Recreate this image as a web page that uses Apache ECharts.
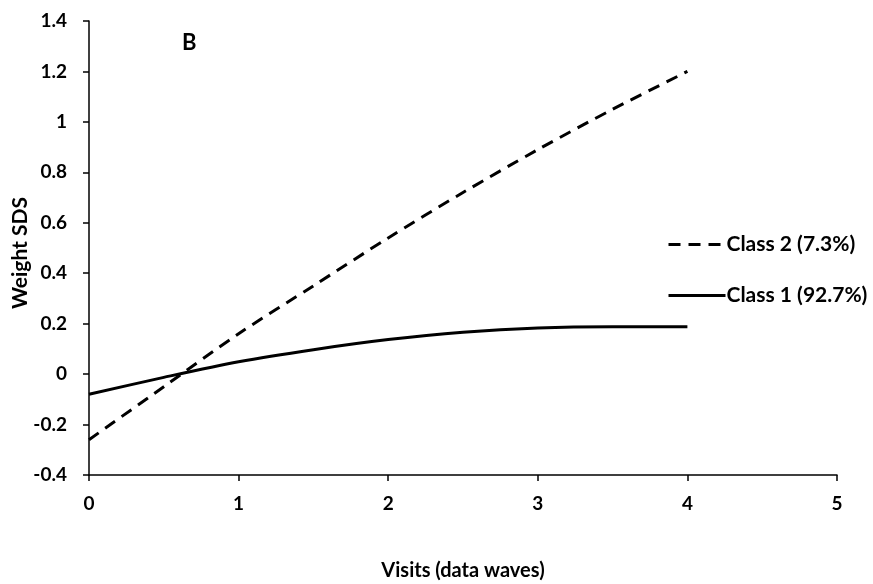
<!DOCTYPE html>
<html>
<head>
<meta charset="utf-8">
<script src="https://cdn.jsdelivr.net/npm/echarts@6/dist/echarts.min.js"></script>
<style>html,body{margin:0;padding:0;background:#fff;}#c{width:873px;height:584px;}</style>
</head>
<body>
<div id="c"></div>
<script>
var visits = [0, 0.5, 1, 1.5, 2, 2.5, 3, 3.5, 4];
var class1 = [-0.08, -0.013, 0.049, 0.097, 0.137, 0.166, 0.183, 0.188, 0.188];
var class2 = [-0.26, -0.05, 0.16, 0.35, 0.54, 0.72, 0.89, 1.05, 1.20];
var class1Name = 'Class 1 (92.7%)';
var class2Name = 'Class 2 (7.3%)';
var FONT = 'Lato';

function pairs(xs, ys) { return xs.map(function (x, i) { return [x, ys[i]]; }); }

var chart = echarts.init(document.getElementById('c'), null, { renderer: 'canvas' });
chart.setOption({
  animation: false,
  backgroundColor: '#fff',
  textStyle: { fontFamily: FONT, fontWeight: 'bold', color: '#000' },
  grid: { left: 89, right: 36, top: 21, bottom: 109, containLabel: false, outerBoundsMode: 'none' },
  title: {
    text: 'B', left: 182, top: 32, padding: 0,
    textStyle: { fontFamily: FONT, fontWeight: 'bold', fontSize: 22, color: '#000' }
  },
  legend: {
    orient: 'vertical', left: 667, top: 234, padding: 0,
    itemWidth: 57, itemHeight: 20, itemGap: 30,
    data: [class2Name, class1Name],
    itemStyle: { opacity: 0, color: 'transparent', borderWidth: 0 },
    lineStyle: { width: 3 },
    textStyle: { fontFamily: FONT, fontWeight: 'bold', fontSize: 21, color: '#000', padding: [0, 0, 0, -4] }
  },
  xAxis: {
    type: 'value', min: 0, max: 5, interval: 1,
    name: 'Visits (data waves)', nameLocation: 'middle', nameGap: 86, nameMoveOverlap: false,
    nameTextStyle: { fontFamily: FONT, fontWeight: 'bold', fontSize: 20, color: '#000' },
    axisLine: { show: true, onZero: false, lineStyle: { color: '#000', width: 1.5 } },
    axisTick: { show: true, length: 6, lineStyle: { color: '#000', width: 1.5 } },
    axisLabel: { margin: 19, fontFamily: FONT, fontWeight: 'bold', fontSize: 19, color: '#000' },
    splitLine: { show: false }
  },
  yAxis: {
    type: 'value', min: -0.4, max: 1.4, interval: 0.2,
    name: 'Weight SDS', nameLocation: 'middle', nameGap: 58, nameMoveOverlap: false,
    nameTextStyle: { fontFamily: FONT, fontWeight: 'bold', fontSize: 21, color: '#000', padding: [0, 10, 0, 0] },
    axisLine: { show: true, onZero: false, lineStyle: { color: '#000', width: 1.5 } },
    axisTick: { show: true, length: 6, lineStyle: { color: '#000', width: 1.5 } },
    axisLabel: {
      margin: 22, fontFamily: FONT, fontWeight: 'bold', fontSize: 19, color: '#000',
      formatter: function (v) { return String(Math.round(v * 10) / 10); }
    },
    splitLine: { show: false }
  },
  series: [
    {
      name: class1Name, type: 'line', data: pairs(visits, class1), smooth: 0.3,
      symbol: 'none', lineStyle: { color: '#000', width: 3 }, itemStyle: { color: '#000' }
    },
    {
      name: class2Name, type: 'line', data: pairs(visits, class2), smooth: 0.3,
      symbol: 'none', lineStyle: { color: '#000', width: 3, type: [12, 8] }, itemStyle: { color: '#000' }
    }
  ]
});
</script>
</body>
</html>
